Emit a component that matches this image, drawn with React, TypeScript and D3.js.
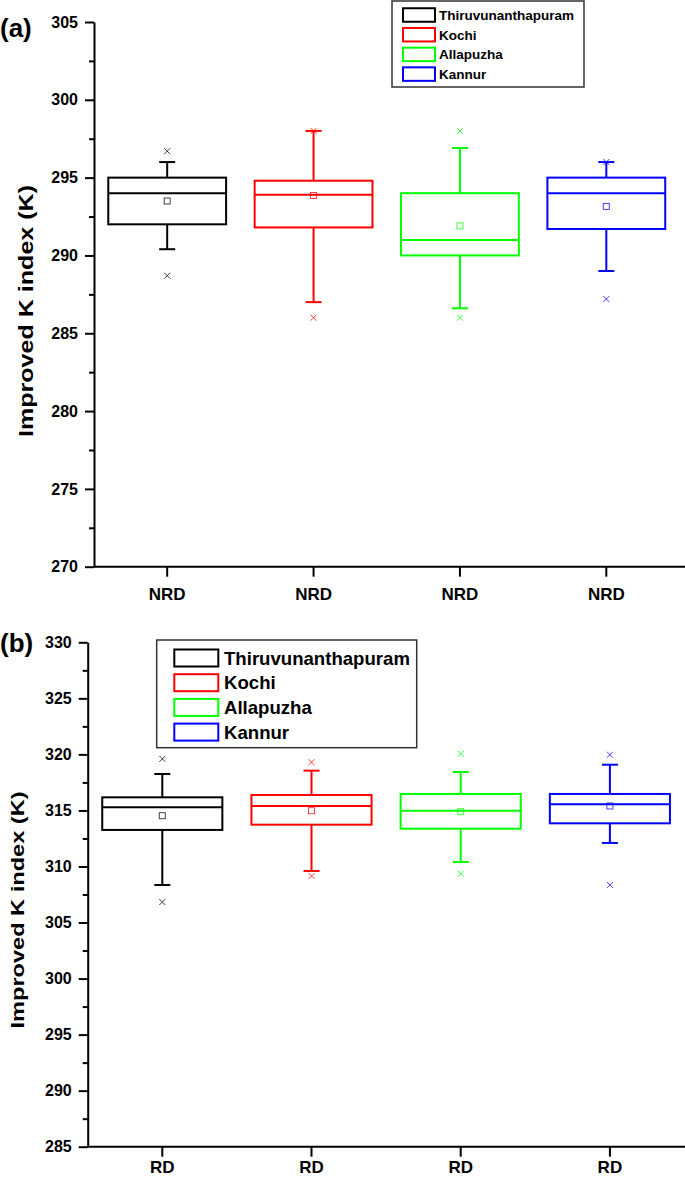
import { useEffect, useRef } from "react";
import * as d3 from "d3";

const sites = ["Thiruvunanthapuram", "Kochi", "Allapuzha", "Kannur"];
const siteColors = ["#000000", "#ff0000", "#00ff00", "#0000ff"];

// (a) non-rainy days
const nrdLabels = ["NRD", "NRD", "NRD", "NRD"];
const nrdTicks = [270, 275, 280, 285, 290, 295, 300, 305];
const nrdMinorTicks = [272.5, 277.5, 282.5, 287.5, 292.5, 297.5, 302.5];
const nrdWhiskerLow = [290.4, 287.0, 286.6, 289.0];
const nrdQ1 = [292.0, 291.8, 290.0, 291.7];
const nrdMedian = [294.0, 293.9, 291.0, 294.0];
const nrdQ3 = [295.0, 294.8, 294.0, 295.0];
const nrdWhiskerHigh = [296.0, 298.0, 296.9, 296.0];
const nrdMean = [293.5, 293.85, 291.9, 293.15];
const nrdMin = [288.7, 286.0, 286.0, 287.2];
const nrdMax = [296.7, 298.0, 298.0, 296.0];

// (b) rainy days
const rdLabels = ["RD", "RD", "RD", "RD"];
const rdTicks = [285, 290, 295, 300, 305, 310, 315, 320, 325, 330];
const rdMinorTicks = [287.5, 292.5, 297.5, 302.5, 307.5, 312.5, 317.5, 322.5, 327.5];
const rdWhiskerLow = [308.35, 309.6, 310.4, 312.1];
const rdQ1 = [313.26, 313.73, 313.37, 313.85];
const rdMedian = [315.28, 315.4, 314.98, 315.55];
const rdQ3 = [316.17, 316.38, 316.47, 316.47];
const rdWhiskerHigh = [318.25, 318.55, 318.43, 319.08];
const rdMean = [314.53, 314.98, 314.89, 315.4];
const rdMin = [306.83, 309.15, 309.36, 308.35];
const rdMax = [319.6, 319.3, 320.04, 319.97];

const FONT = "'Liberation Sans', Arial, sans-serif";

interface PanelCfg {
  tag: string;
  tagY: number;
  domain: [number, number];
  top: number;
  bottom: number;
  left: number;
  right: number;
  ticks: number[];
  minor: number[];
  labels: string[];
  labelPad: number;
  low: number[];
  q1: number[];
  med: number[];
  q3: number[];
  high: number[];
  mean: number[];
  min: number[];
  max: number[];
  titleX: number;
  titleY: number;
  titleSize: number;
  titleLen: number;
  legend: { x: number; y: number; w: number; h: number; sx: number; sw: number; sh: number; row0: number; step: number; tx: number; fs: number };
}

function drawPanel(svg: d3.Selection<SVGSVGElement, unknown, null, undefined>, c: PanelCfg) {
  const g = svg.append("g");
  const y = d3.scaleLinear().domain(c.domain).range([c.bottom, c.top]);
  const x = d3.scaleBand<number>().domain(d3.range(sites.length)).range([c.left, c.right]);
  const cx = (i: number) => (x(i) as number) + x.bandwidth() / 2;
  const boxW = x.bandwidth() * 0.805;
  const capW = 16;

  // y axis major
  const gy = g
    .append("g")
    .attr("transform", `translate(${c.left},0)`)
    .call(d3.axisLeft(y).tickValues(c.ticks).tickSize(9).tickPadding(7).tickSizeOuter(0));
  gy.select(".domain").attr("stroke-width", 2);
  gy.selectAll(".tick line").attr("stroke-width", 2);
  gy.selectAll(".tick text")
    .attr("font-size", 16)
    .attr("font-weight", "bold")
    .attr("font-family", FONT)
    .attr("fill", "#000");

  // y axis minor
  const gm = g
    .append("g")
    .attr("transform", `translate(${c.left},0)`)
    .call(d3.axisLeft(y).tickValues(c.minor).tickSize(5).tickSizeOuter(0).tickFormat(() => ""));
  gm.select(".domain").remove();
  gm.selectAll(".tick line").attr("stroke-width", 2);

  // x axis
  const gx = g
    .append("g")
    .attr("transform", `translate(0,${c.bottom})`)
    .call(d3.axisBottom(x).tickSize(10).tickPadding(c.labelPad).tickSizeOuter(0).tickFormat((i) => c.labels[i as number]));
  gx.select(".domain").remove();
  gx.selectAll(".tick line").attr("stroke-width", 2);
  gx.selectAll(".tick text")
    .attr("font-size", 17)
    .attr("font-weight", "bold")
    .attr("font-family", FONT)
    .attr("fill", "#000");
  g.append("line")
    .attr("x1", c.left)
    .attr("x2", 685)
    .attr("y1", c.bottom)
    .attr("y2", c.bottom)
    .attr("stroke", "#000")
    .attr("stroke-width", 2);

  // boxes
  sites.forEach((_, i) => {
    const col = siteColors[i];
    const xc = cx(i);
    const b = g.append("g").attr("stroke", col).attr("fill", "none");
    b.append("line").attr("x1", xc).attr("x2", xc).attr("y1", y(c.q3[i])).attr("y2", y(c.high[i])).attr("stroke-width", 2);
    b.append("line").attr("x1", xc).attr("x2", xc).attr("y1", y(c.q1[i])).attr("y2", y(c.low[i])).attr("stroke-width", 2);
    b.append("line").attr("x1", xc - capW / 2).attr("x2", xc + capW / 2).attr("y1", y(c.high[i])).attr("y2", y(c.high[i])).attr("stroke-width", 2);
    b.append("line").attr("x1", xc - capW / 2).attr("x2", xc + capW / 2).attr("y1", y(c.low[i])).attr("y2", y(c.low[i])).attr("stroke-width", 2);
    b.append("rect")
      .attr("x", xc - boxW / 2)
      .attr("y", y(c.q3[i]))
      .attr("width", boxW)
      .attr("height", y(c.q1[i]) - y(c.q3[i]))
      .attr("stroke-width", 2);
    b.append("line").attr("x1", xc - boxW / 2).attr("x2", xc + boxW / 2).attr("y1", y(c.med[i])).attr("y2", y(c.med[i])).attr("stroke-width", 2);
    // mean square
    b.append("rect")
      .attr("x", xc - 3)
      .attr("y", y(c.mean[i]) - 3)
      .attr("width", 6)
      .attr("height", 6)
      .attr("stroke-width", 1)
      .attr("opacity", 0.75);
    // min / max crosses
    [c.min[i], c.max[i]].forEach((v) => {
      const yy = y(v);
      b.append("path")
        .attr("d", `M${xc - 3},${yy - 3}L${xc + 3},${yy + 3}M${xc - 3},${yy + 3}L${xc + 3},${yy - 3}`)
        .attr("stroke-width", 1)
        .attr("opacity", 0.75);
    });
  });

  // legend
  const L = c.legend;
  const lg = g.append("g");
  lg.append("rect")
    .attr("x", L.x)
    .attr("y", L.y)
    .attr("width", L.w)
    .attr("height", L.h)
    .attr("fill", "#fff")
    .attr("stroke", "#333")
    .attr("stroke-width", 1.5);
  sites.forEach((s, i) => {
    const cy = L.row0 + i * L.step;
    lg.append("rect")
      .attr("x", L.sx)
      .attr("y", cy - L.sh / 2)
      .attr("width", L.sw)
      .attr("height", L.sh)
      .attr("fill", "none")
      .attr("stroke", siteColors[i])
      .attr("stroke-width", 2);
    lg.append("text")
      .attr("x", L.tx)
      .attr("y", cy)
      .attr("dy", "0.36em")
      .attr("font-size", L.fs)
      .attr("font-weight", "bold")
      .attr("font-family", FONT)
      .text(s);
  });

  // y title
  g.append("text")
    .attr("transform", `translate(${c.titleX},${c.titleY}) rotate(-90)`)
    .attr("text-anchor", "middle")
    .attr("font-size", c.titleSize)
    .attr("font-weight", "bold")
    .attr("font-family", FONT)
    .attr("textLength", c.titleLen)
    .attr("lengthAdjust", "spacingAndGlyphs")
    .text("Improved K index (K)");

  // panel tag
  g.append("text")
    .attr("x", 0)
    .attr("y", c.tagY)
    .attr("font-size", 26)
    .attr("font-weight", "bold")
    .attr("font-family", FONT)
    .text(c.tag);
}

export default function App() {
  const svgRef = useRef<SVGSVGElement>(null);

  useEffect(() => {
    if (!svgRef.current) return;
    const svg = d3.select(svgRef.current);
    svg.selectAll("*").remove();

    drawPanel(svg, {
      tag: "(a)",
      tagY: 37,
      domain: [270, 305],
      top: 22,
      bottom: 566.7,
      left: 94,
      right: 679.5,
      ticks: nrdTicks,
      minor: nrdMinorTicks,
      labels: nrdLabels,
      labelPad: 11,
      low: nrdWhiskerLow,
      q1: nrdQ1,
      med: nrdMedian,
      q3: nrdQ3,
      high: nrdWhiskerHigh,
      mean: nrdMean,
      min: nrdMin,
      max: nrdMax,
      titleX: 32.5,
      titleY: 311,
      titleSize: 21,
      titleLen: 252,
      legend: { x: 392, y: 1, w: 192, h: 86, sx: 403, sw: 32, sh: 13.5, row0: 15, step: 19.7, tx: 439, fs: 13.5 },
    });

    drawPanel(svg, {
      tag: "(b)",
      tagY: 652,
      domain: [285, 330],
      top: 642.3,
      bottom: 1146.7,
      left: 87.7,
      right: 684.5,
      ticks: rdTicks,
      minor: rdMinorTicks,
      labels: rdLabels,
      labelPad: 4,
      low: rdWhiskerLow,
      q1: rdQ1,
      med: rdMedian,
      q3: rdQ3,
      high: rdWhiskerHigh,
      mean: rdMean,
      min: rdMin,
      max: rdMax,
      titleX: 24,
      titleY: 910,
      titleSize: 19,
      titleLen: 237,
      legend: { x: 156.7, y: 640, w: 260, h: 107.7, sx: 174.3, sw: 44, sh: 17, row0: 658, step: 24.7, tx: 224, fs: 18.6 },
    });
  }, []);

  return (
    <svg
      ref={svgRef}
      width={685}
      height={1178}
      style={{ position: "absolute", left: 0, top: 0, background: "#fff" }}
    />
  );
}
